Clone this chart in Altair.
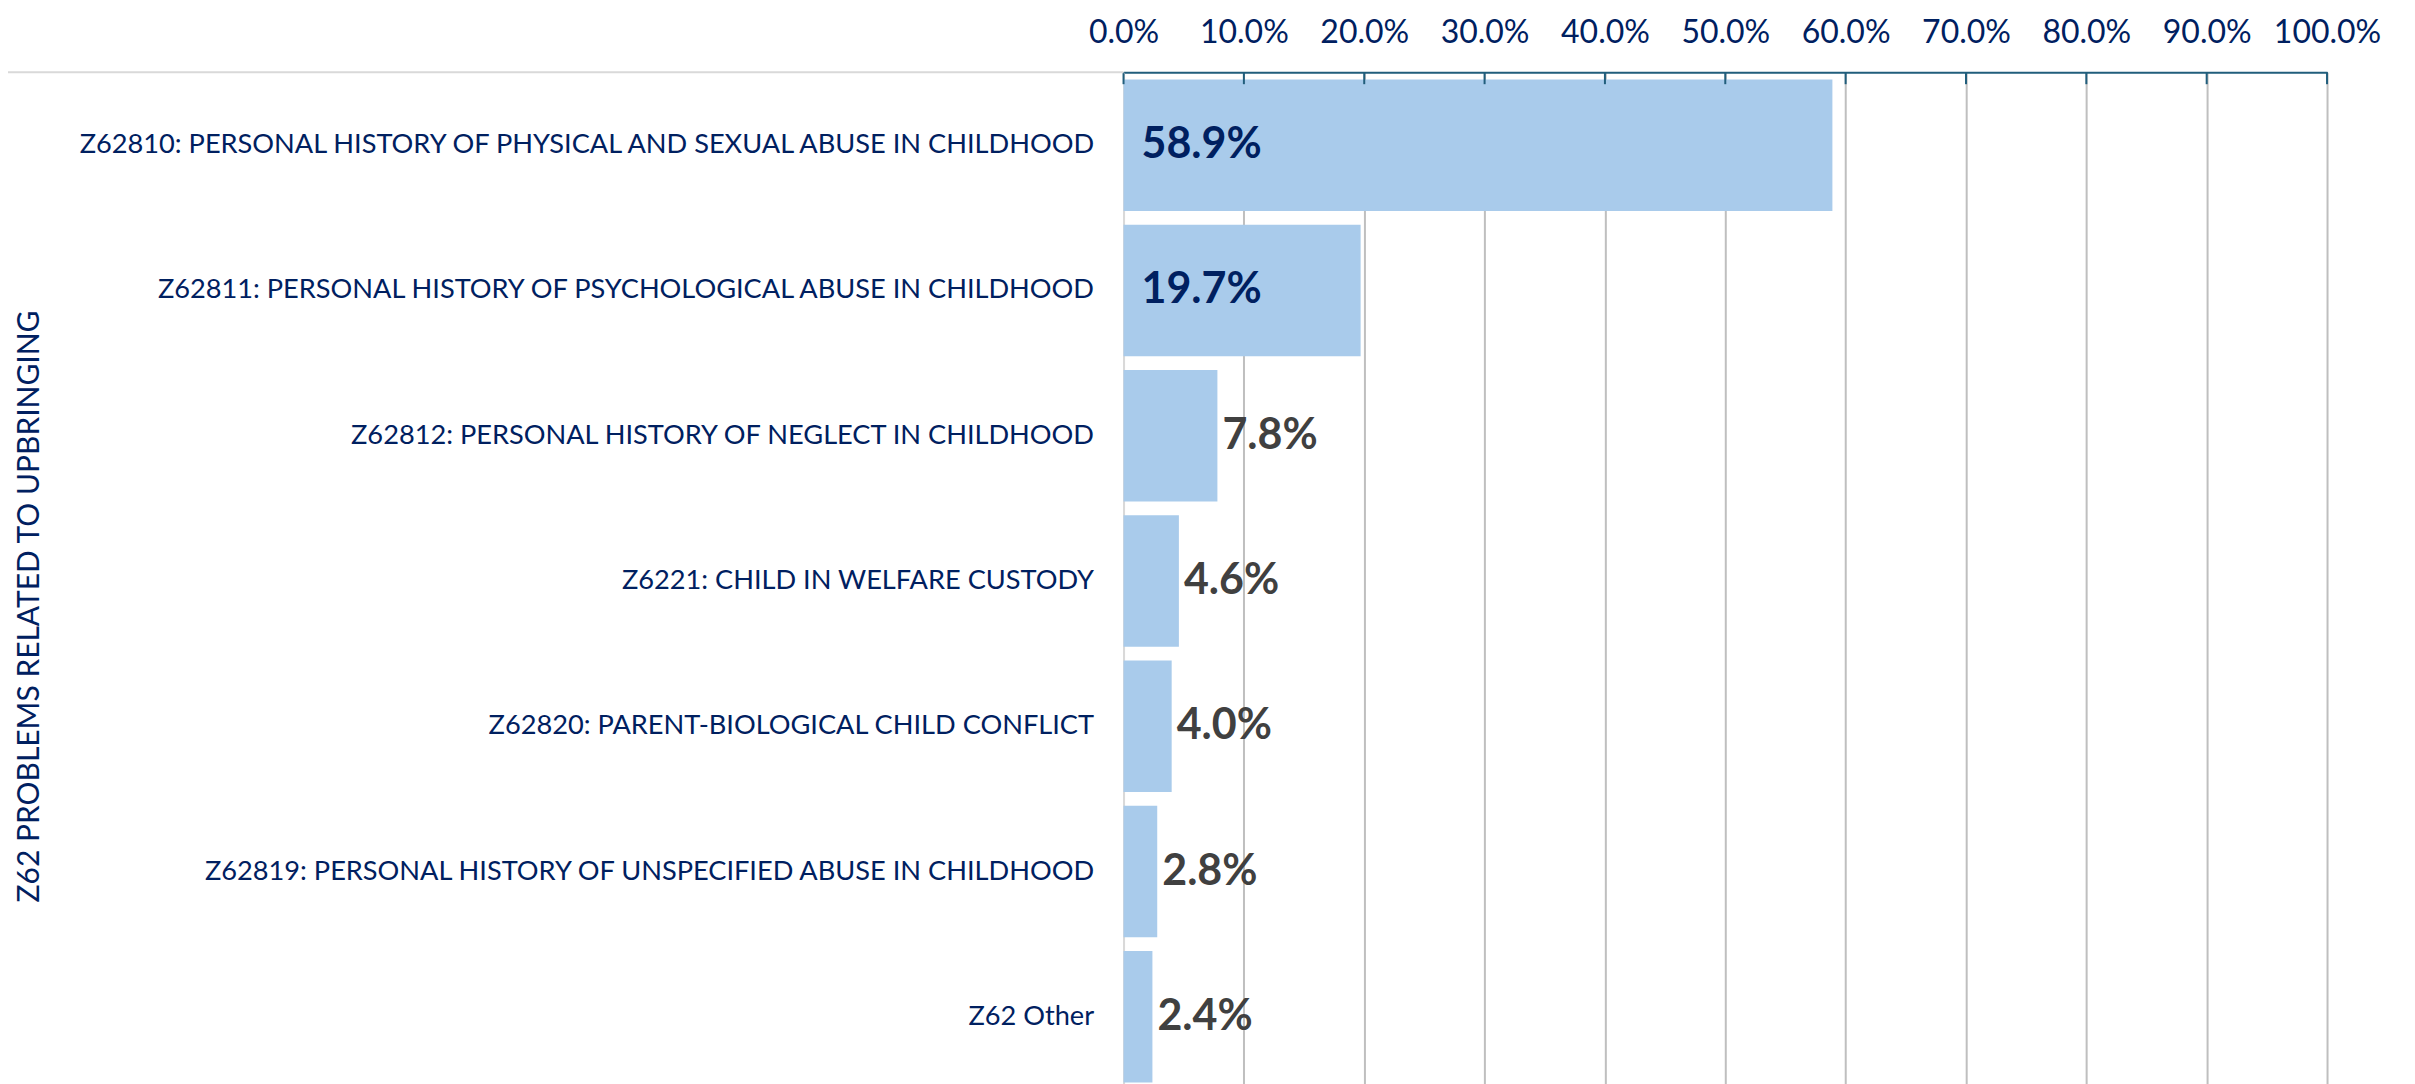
import altair as alt
import pandas as pd

categories = [
    "Z62810: PERSONAL HISTORY OF PHYSICAL AND SEXUAL ABUSE IN CHILDHOOD",
    "Z62811: PERSONAL HISTORY OF PSYCHOLOGICAL ABUSE IN CHILDHOOD",
    "Z62812: PERSONAL HISTORY OF NEGLECT IN CHILDHOOD",
    "Z6221: CHILD IN WELFARE CUSTODY",
    "Z62820: PARENT-BIOLOGICAL CHILD CONFLICT",
    "Z62819: PERSONAL HISTORY OF UNSPECIFIED ABUSE IN CHILDHOOD",
    "Z62 Other",
]
values = [58.9, 19.7, 7.8, 4.6, 4.0, 2.8, 2.4]
tick_values = [0, 10, 20, 30, 40, 50, 60, 70, 80, 90, 100]
group_title = "Z62 PROBLEMS RELATED TO UPBRINGING"

df = pd.DataFrame({"category": categories, "value": values})
df["label"] = [f"{v:.1f}%" for v in values]
ticks_df = pd.DataFrame({"t": tick_values})

FONT = "Lato"
NAVY = "#002060"
DOMAIN = "#215E7C"

x_scale = alt.Scale(domain=[0, 100], nice=False, zero=True)
y_enc = alt.Y(
    "category:N",
    sort=categories,
    scale=alt.Scale(paddingInner=0.095, paddingOuter=0.05),
    axis=alt.Axis(
        title=group_title,
        titleFont=FONT,
        titleFontSize=30,
        titleFontWeight="normal",
        titleColor=NAVY,
        titleAngle=270,
        titleX=-1094,
        titleY=534,
        titleAlign="center",
        titleBaseline="middle",
        labelFont=FONT,
        labelFontSize=27.2,
        labelColor=NAVY,
        labelPadding=30,
        labelLimit=0,
        ticks=False,
        domain=True,
        domainColor="#D9D9D9",
        domainWidth=2,
        grid=False,
    ),
)

bars = alt.Chart(df).mark_bar(color="#A9CBEB").encode(
    x=alt.X(
        "value:Q",
        scale=x_scale,
        axis=alt.Axis(
            orient="top",
            title=None,
            values=tick_values,
            labelExpr="format(datum.value, '.1f') + '%'",
            labelFont=FONT,
            labelFontSize=32,
            labelColor=NAVY,
            labelBaseline="alphabetic",
            labelPadding=30,
            labelOverlap=False,
            labelFlush=False,
            ticks=False,
            tickSize=0,
            domainColor=DOMAIN,
            domainWidth=2,
            grid=True,
            gridColor=alt.condition("datum.value == 0", alt.value("#D9D9D9"), alt.value("#BFBFBF")),
            gridWidth=2,
        ),
    ),
    y=y_enc,
)

tick_marks = alt.Chart(ticks_df).mark_rule(color=DOMAIN, strokeWidth=2).encode(
    x=alt.X("t:Q", scale=x_scale),
    y=alt.value(0),
    y2=alt.value(12),
)

top_line = alt.Chart(ticks_df.head(1)).mark_rule(color="#D9D9D9", strokeWidth=2).encode(
    x=alt.value(-1116),
    x2=alt.value(0),
    y=alt.value(0),
)

inside = alt.Chart(df).transform_filter("datum.value >= 10").mark_text(
    align="left", baseline="middle", font=FONT, fontSize=43, fontWeight="bold", color=NAVY, dx=18
).encode(
    x=alt.value(0),
    y=alt.Y("category:N", sort=categories),
    text="label:N",
)

outside = alt.Chart(df).transform_filter("datum.value < 10").mark_text(
    align="left", baseline="middle", font=FONT, fontSize=43, fontWeight="bold", color="#404040", dx=5
).encode(
    x=alt.X("value:Q", scale=x_scale),
    y=alt.Y("category:N", sort=categories),
    text="label:N",
)

chart = alt.layer(bars, tick_marks, top_line, inside, outside).properties(
    width=1204,
    height=1018,
    autosize=alt.AutoSizeParams(type="none"),
    padding={"left": 1116, "top": 64, "right": 80, "bottom": 0},
).configure_view(stroke=None).configure(background="white")

chart.save("out.html", embed_options={"renderer": "svg", "actions": False})
